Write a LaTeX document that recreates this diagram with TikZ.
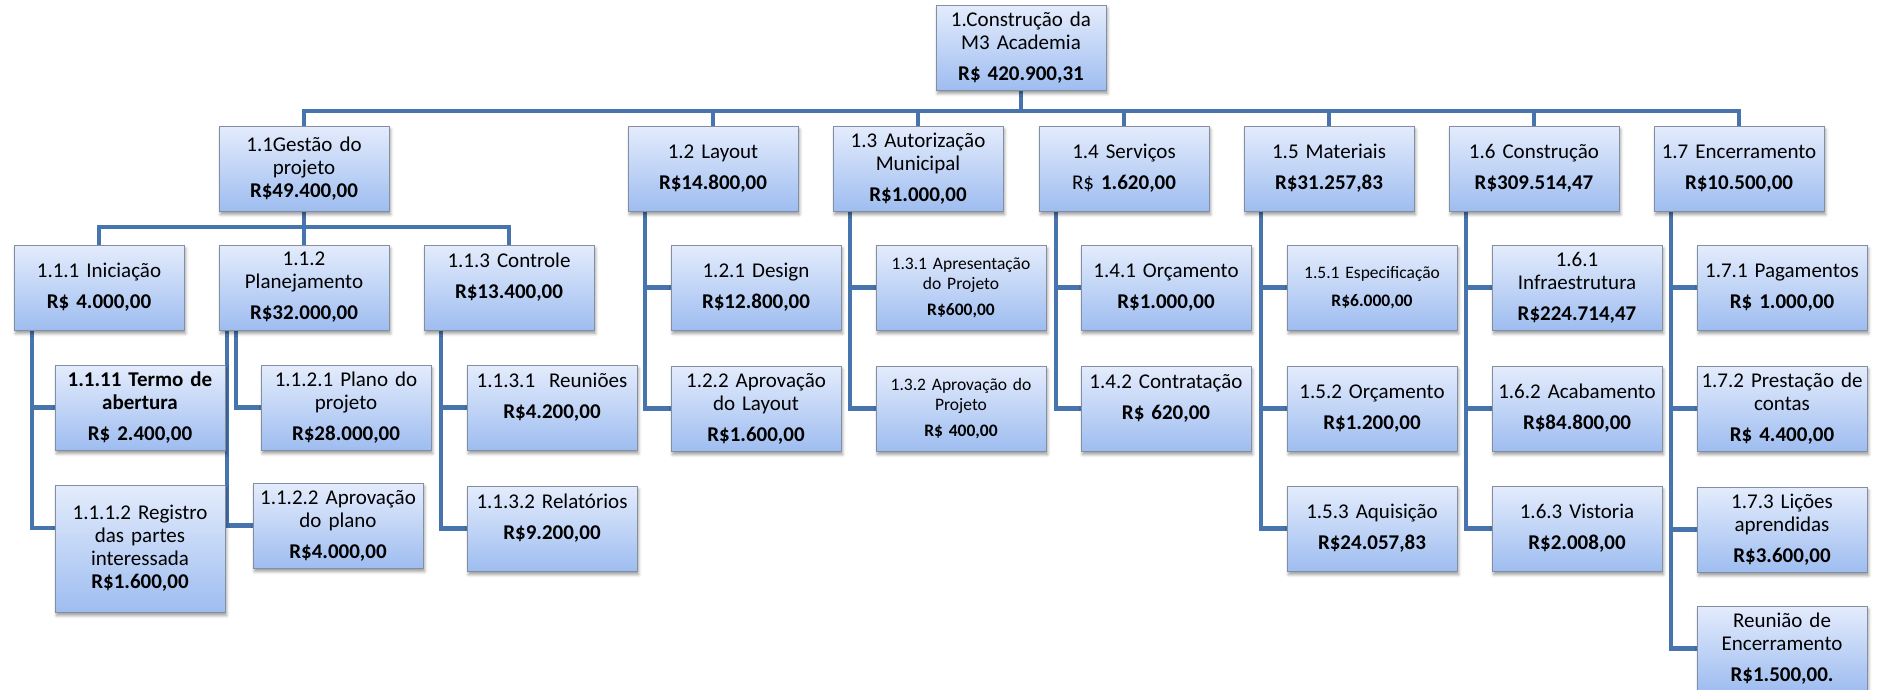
\documentclass[tikz,border=0pt]{standalone}
\usepackage{fontspec}
\setmainfont{Carlito}
\usetikzlibrary{backgrounds,calc,shadows.blur}
\definecolor{linkblue}{RGB}{72,116,174}
\definecolor{boxtop}{RGB}{228,236,252}
\definecolor{boxbot}{RGB}{158,189,240}
\definecolor{boxedge}{RGB}{130,142,162}
\tikzset{
  wbs/.style={anchor=north west, draw=boxedge, line width=0.8pt,
    top color=boxtop, bottom color=boxbot,
    minimum width=170pt, minimum height=85pt, text width=164pt,
    inner sep=3pt, outer sep=0pt, align=center,
    font=\fontsize{21}{23}\selectfont,
    blur shadow={shadow xshift=1.5pt, shadow yshift=-3.5pt,
      shadow blur radius=3pt, shadow opacity=40}},
  small/.style={font=\fontsize{17.5}{20}\selectfont},
  tall/.style={minimum height=127pt},
  link/.style={draw=linkblue, line width=4.5pt, line join=miter},
}
\begin{document}
\begin{tikzpicture}[x=1pt, y=-1pt]
\useasboundingbox (0,0) rectangle (1879,689);

% top of the breakdown
\node[wbs] (root) at (936,5) {1.Construção da\\M3 Academia\\[8pt]\textbf{R\$ 420.900,31}};

% level 1
\node[wbs] (n11) at (219,126) {1.1Gestão do\\projeto\\\textbf{R\$49.400,00}};
\node[wbs] (n12) at (628,126) {1.2 Layout\\[8pt]\textbf{R\$14.800,00}};
\node[wbs] (n13) at (833,126) {1.3 Autorização\\Municipal\\[8pt]\textbf{R\$1.000,00}};
\node[wbs] (n14) at (1039,126) {1.4 Serviços\\[8pt]R\$ \textbf{1.620,00}};
\node[wbs] (n15) at (1244,126) {1.5 Materiais\\[8pt]\textbf{R\$31.257,83}};
\node[wbs] (n16) at (1449,126) {1.6 Construção\\[8pt]\textbf{R\$309.514,47}};
\node[wbs] (n17) at (1654,126) {1.7 Encerramento\\[8pt]\textbf{R\$10.500,00}};

% project management branch
\node[wbs] (n111) at (14,245) {1.1.1 Iniciação\\[8pt]\textbf{R\$ 4.000,00}};
\node[wbs] (n112) at (219,245) {1.1.2\\Planejamento\\[8pt]\textbf{R\$32.000,00}};
\node[wbs] (n113) at (424,245) {1.1.3 Controle\\[8pt]\textbf{R\$13.400,00}\\~};

\node[wbs] (n1111) at (55,365) {\textbf{1.1.11 Termo de}\\\textbf{abertura}\\[8pt]\textbf{R\$ 2.400,00}};
\node[wbs, tall] (n1112) at (55,485) {1.1.1.2 Registro\\das partes\\interessada\\\textbf{R\$1.600,00}};
\node[wbs] (n1121) at (261,365) {1.1.2.1 Plano do\\projeto\\[8pt]\textbf{R\$28.000,00}};
\node[wbs] (n1122) at (253,483) {1.1.2.2 Aprovação\\do plano\\[8pt]\textbf{R\$4.000,00}};
\node[wbs] (n1131) at (467,365) {1.1.3.1~~Reuniões\\[8pt]\textbf{R\$4.200,00}\\~};
\node[wbs] (n1132) at (467,486) {1.1.3.2 Relatórios\\[8pt]\textbf{R\$9.200,00}\\~};

% layout
\node[wbs] (n121) at (671,245) {1.2.1 Design\\[8pt]\textbf{R\$12.800,00}};
\node[wbs] (n122) at (671,366) {1.2.2 Aprovação\\do Layout\\[8pt]\textbf{R\$1.600,00}};

% municipal authorisation
\node[wbs, small] (n131) at (876,245) {1.3.1 Apresentação\\do Projeto\\[6pt]\textbf{R\$600,00}};
\node[wbs, small] (n132) at (876,366) {1.3.2 Aprovação do\\Projeto\\[6pt]\textbf{R\$ 400,00}};

% services
\node[wbs] (n141) at (1081,245) {1.4.1 Orçamento\\[8pt]\textbf{R\$1.000,00}};
\node[wbs] (n142) at (1081,366) {1.4.2 Contratação\\[8pt]\textbf{R\$ 620,00}\\~};

% materials
\node[wbs, small] (n151) at (1287,245) {1.5.1 Especificação\\[8pt]\textbf{R\$6.000,00}};
\node[wbs] (n152) at (1287,366) {1.5.2 Orçamento\\[8pt]\textbf{R\$1.200,00}};
\node[wbs] (n153) at (1287,486) {1.5.3 Aquisição\\[8pt]\textbf{R\$24.057,83}};

% construction
\node[wbs] (n161) at (1492,245) {1.6.1\\Infraestrutura\\[8pt]\textbf{R\$224.714,47}};
\node[wbs] (n162) at (1492,366) {1.6.2 Acabamento\\[8pt]\textbf{R\$84.800,00}};
\node[wbs] (n163) at (1492,486) {1.6.3 Vistoria\\[8pt]\textbf{R\$2.008,00}};

% closing
\node[wbs] (n171) at (1697,245) {1.7.1 Pagamentos\\[8pt]\textbf{R\$ 1.000,00}};
\node[wbs] (n172) at (1697,366) {1.7.2 Prestação de\\contas\\[8pt]\textbf{R\$ 4.400,00}};
\node[wbs] (n173) at (1697,487) {1.7.3 Lições\\aprendidas\\[8pt]\textbf{R\$3.600,00}};
\node[wbs] (n174) at (1697,606) {Reunião de\\Encerramento\\[8pt]\textbf{R\$1.500,00.}};

\begin{pgfonlayer}{background}
  % root to the level-1 boxes
  \foreach \c in {n11,n12,n13,n14,n15,n16,n17}
    \draw[link] (root.south) -- ++(0,21) -| (\c.north);
  % 1.1 to its three children
  \foreach \c in {n111,n112,n113}
    \draw[link] (n11.south) -- ++(0,16) -| (\c.north);
  % hanging children
  \draw[link] ([xshift=18pt]n111.south west) |- (n1111.west);
  \draw[link] ([xshift=18pt]n111.south west) |- ($(n1112.north west)+(0,43)$);
  \draw[link] ([xshift=17pt]n112.south west) |- (n1121.west);
  \draw[link] ([xshift=8pt]n112.south west) |- (n1122.west);
  \draw[link] ([xshift=17pt]n113.south west) |- (n1131.west);
  \draw[link] ([xshift=17pt]n113.south west) |- (n1132.west);
  \foreach \p/\c in {n12/n121,n12/n122,n13/n131,n13/n132,n14/n141,n14/n142,
                     n15/n151,n15/n152,n15/n153,n16/n161,n16/n162,n16/n163,
                     n17/n171,n17/n172,n17/n173,n17/n174}
    \draw[link] ([xshift=17pt]\p.south west) |- (\c.west);
\end{pgfonlayer}
\end{tikzpicture}
\end{document}
